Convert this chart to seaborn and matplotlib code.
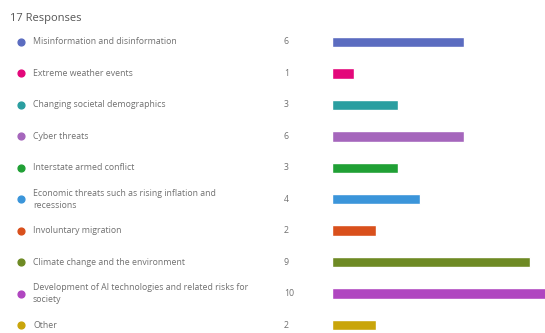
import matplotlib
matplotlib.use("Agg")
import matplotlib.pyplot as plt
import matplotlib.transforms as mtransforms
import seaborn as sns
import pandas as pd

title = "17 Responses"
categories = [
    "Misinformation and disinformation",
    "Extreme weather events",
    "Changing societal demographics",
    "Cyber threats",
    "Interstate armed conflict",
    "Economic threats such as rising inflation and\nrecessions",
    "Involuntary migration",
    "Climate change and the environment",
    "Development of AI technologies and related risks for\nsociety",
    "Other",
]
counts = [6, 1, 3, 6, 3, 4, 2, 9, 10, 2]
colors = ["#5B6CC0", "#E3077A", "#2A9EA0", "#A566BC", "#20A035",
          "#3B95DA", "#D9501C", "#6E8A24", "#B046C0", "#C9A50A"]

df = pd.DataFrame({"category": categories, "count": counts})

sns.set_theme(style="white")
plt.rcParams["font.family"] = ["Open Sans", "DejaVu Sans"]

W, H = 545, 333
fig = plt.figure(figsize=(W / 100, H / 100), dpi=100)
fig.patch.set_facecolor("white")

x0 = 332
px_per_unit = 22.0
ax = fig.add_axes([x0 / W, 0, 1 - x0 / W, 1])

sns.barplot(data=df, x="count", y="category", hue="category", palette=colors,
            orient="h", width=0.33, legend=False, ax=ax, saturation=1)

first_y, last_y = 42, 325
step = (last_y - first_y) / (len(categories) - 1)
ax.set_ylim(len(categories) - 1 + (H - last_y) / step, -first_y / step)
ax.set_xlim(0, (W - x0) / px_per_unit)
ax.axis("off")

tr = mtransforms.blended_transform_factory(fig.transFigure, ax.transData)
for i, (cat, c, col) in enumerate(zip(categories, counts, colors)):
    ax.scatter([21 / W], [i], transform=tr, s=24, color=col, clip_on=False, zorder=5)
    ax.text(33 / W, i, cat, transform=tr, ha="left", va="center", fontsize=6.3,
            color="#707070", linespacing=1.45, clip_on=False)
    ax.text(284 / W, i, str(c), transform=tr, ha="left", va="center", fontsize=6.3,
            color="#707070", clip_on=False)

fig.text(10 / W, 1 - 18 / H, title, ha="left", va="center", fontsize=8,
         color="#555555")

fig.savefig("out.png", dpi=100, facecolor="white")
